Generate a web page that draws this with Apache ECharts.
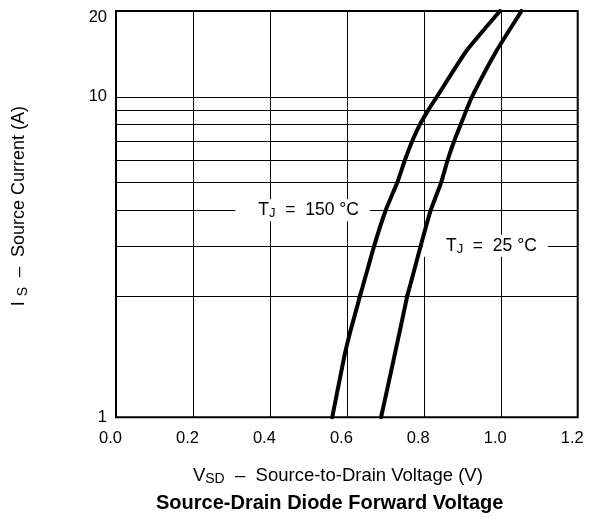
<!DOCTYPE html>
<html>
<head>
<meta charset="utf-8">
<script src="https://cdn.jsdelivr.net/npm/echarts@6/dist/echarts.min.js"></script>
<style>html,body{margin:0;padding:0;background:#fff}#c{width:589px;height:520px}</style>
</head>
<body>
<div id="c"></div>
<script>
// Source-drain voltage (V) and source current (A)
var vsd150 = [0.562, 0.593, 0.608, 0.634, 0.671, 0.701, 0.731, 0.751, 0.770, 0.790, 0.812, 0.834, 0.911, 0.998];
var is150  = [1,     1.41,  1.62,  2,     3,     4,     5,     6,     7,     8,     9,     10,    14.5,  20];
var vsd25  = [0.689, 0.723, 0.757, 0.792, 0.818, 0.845, 0.862, 0.879, 0.896, 0.911, 0.925, 0.989, 1.054];
var is25   = [1,     1.41,  2,     3,     4,     5,     6,     7,     8,     9,     10,    14.5,  20];
var xTicks = [0.0, 0.2, 0.4, 0.6, 0.8, 1.0, 1.2];
var yGridLines = [2, 3, 4, 5, 6, 7, 8, 9, 10];
var yLabels = [1, 10, 20];

var FONT = 'Liberation Sans, Arial, Helvetica, sans-serif';
function pairs(xs, ys) { return xs.map(function (x, i) { return [x, ys[i]]; }); }
var d150 = pairs(vsd150, is150), d25 = pairs(vsd25, is25);

var L = 116, R = 11.3, TOP = 11, MID = 296, BOT = 417.3;

var chart = echarts.init(document.getElementById('c'), null, {renderer: 'canvas'});

var xBase = {
  type: 'value', min: xTicks[0], max: xTicks[xTicks.length - 1], interval: 0.2,
  axisLine: {show: false}, axisTick: {show: false},
  splitLine: {show: true, lineStyle: {color: '#000', width: 1}}
};

var curveStyle = {color: '#000', width: 4, cap: 'round', join: 'round'};

function curve(data, idx, extra) {
  var s = {
    type: 'line', data: data, xAxisIndex: idx, yAxisIndex: idx,
    showSymbol: false, symbol: 'none', smooth: 0.15, silent: true, z: 4,
    lineStyle: curveStyle, clip: true, animation: false
  };
  if (extra) for (var k in extra) s[k] = extra[k];
  return s;
}

var subRich = {
  a: {fontSize: 17.5, fontFamily: FONT, color: '#000'},
  s: {fontSize: 13, fontFamily: FONT, color: '#000', padding: [7, 0, 0, 0]}
};

var option = {
  animation: false,
  backgroundColor: '#fff',
  title: {
    text: 'Source-Drain Diode Forward Voltage',
    left: 156, top: 493, padding: 0,
    textStyle: {fontSize: 20, fontWeight: 'bold', fontFamily: FONT, color: '#000'}
  },
  grid: [
    {left: L, right: R, top: TOP, height: MID - TOP, containLabel: false},
    {left: L, right: R, top: MID, height: BOT - MID, containLabel: false},
    {left: L, right: R, top: TOP, height: BOT - TOP, show: true, borderColor: '#000', borderWidth: 2, backgroundColor: 'transparent'}
  ],
  xAxis: [
    Object.assign({}, xBase, {gridIndex: 0, position: 'top', axisLabel: {show: false}}),
    Object.assign({}, xBase, {
      gridIndex: 1, position: 'bottom',
      axisLabel: {
        show: true, margin: 13, fontSize: 16.5, fontFamily: FONT, color: '#000',
        padding: [0, 11, 0, 0],
        formatter: function (v) { return v.toFixed(1); }
      },
      name: '{a|V}{s|SD}{a|  –  Source-to-Drain Voltage (V)}',
      nameLocation: 'middle', nameGap: 48,
      nameTextStyle: {rich: {
        a: {fontSize: 18.5, fontFamily: FONT, color: '#000'},
        s: {fontSize: 14, fontFamily: FONT, color: '#000', padding: [7, 0, 0, 0]}
      }, padding: [0, 18, 0, 0]}
    }),
    {gridIndex: 2, type: 'value', min: 0, max: 1, show: false}
  ],
  yAxis: [
    {
      gridIndex: 0, type: 'log', logBase: 10, min: yGridLines[0], max: yLabels[2],
      axisLine: {show: false}, axisTick: {show: false}, splitLine: {show: false},
      axisLabel: {
        show: true, margin: 9, fontSize: 16.5, fontFamily: FONT, color: '#000',
        formatter: function (v) {
          var r = Math.round(v);
          if (r === yLabels[1]) return String(r);
          if (r === yLabels[2]) return '{t|' + r + '}';
          return '';
        },
        rich: {t: {fontSize: 16.5, fontFamily: FONT, color: '#000', padding: [12, 0, 0, 0]}}
      }
    },
    {
      gridIndex: 1, type: 'log', logBase: 10, min: yLabels[0], max: yGridLines[0],
      axisLine: {show: false}, axisTick: {show: false}, splitLine: {show: false},
      axisLabel: {
        show: true, margin: 9, fontSize: 16.5, fontFamily: FONT, color: '#000',
        formatter: function (v) { return Math.round(v) === yLabels[0] ? String(yLabels[0]) : ''; }
      }
    },
    {
      gridIndex: 2, type: 'value', min: 0, max: 1,
      axisLine: {show: false}, axisTick: {show: false}, splitLine: {show: false}, axisLabel: {show: false},
      name: '{a|I }{s|S}{a|  –  Source Current (A)}',
      nameLocation: 'middle', nameGap: 86,
      nameTextStyle: {rich: {
        a: {fontSize: 18, fontFamily: FONT, color: '#000'},
        s: {fontSize: 14, fontFamily: FONT, color: '#000', padding: [7, 0, 0, 0]}
      }, padding: [0, 0, 0, 16]}
    }
  ],
  series: [
    curve(d150, 0, {
      markLine: {
        silent: true, z: 1, symbol: ['none', 'none'], animation: false,
        label: {show: false},
        lineStyle: {color: '#000', width: 1, type: 'solid'},
        emphasis: {disabled: true},
        data: yGridLines.map(function (v) { return {yAxis: v}; })
      },
      markPoint: {
        silent: true, z: 3, symbol: 'rect', symbolSize: 1, animation: false,
        itemStyle: {color: 'rgba(0,0,0,0)'},
        label: {
          show: true, position: 'inside', backgroundColor: '#fff',
          padding: [1, 11, 1, 23], rich: subRich
        },
        data: [
          {coord: [0.485, 4], label: {formatter: '{a|T}{s|J}{a|  =  150 °C}'}},
          {coord: [0.960, 3], label: {formatter: '{a|T}{s|J}{a|  =  25 °C}'}}
        ]
      }
    }),
    curve(d25, 0),
    curve(d150, 1),
    curve(d25, 1)
  ]
};
chart.setOption(option);
</script>
</body>
</html>
